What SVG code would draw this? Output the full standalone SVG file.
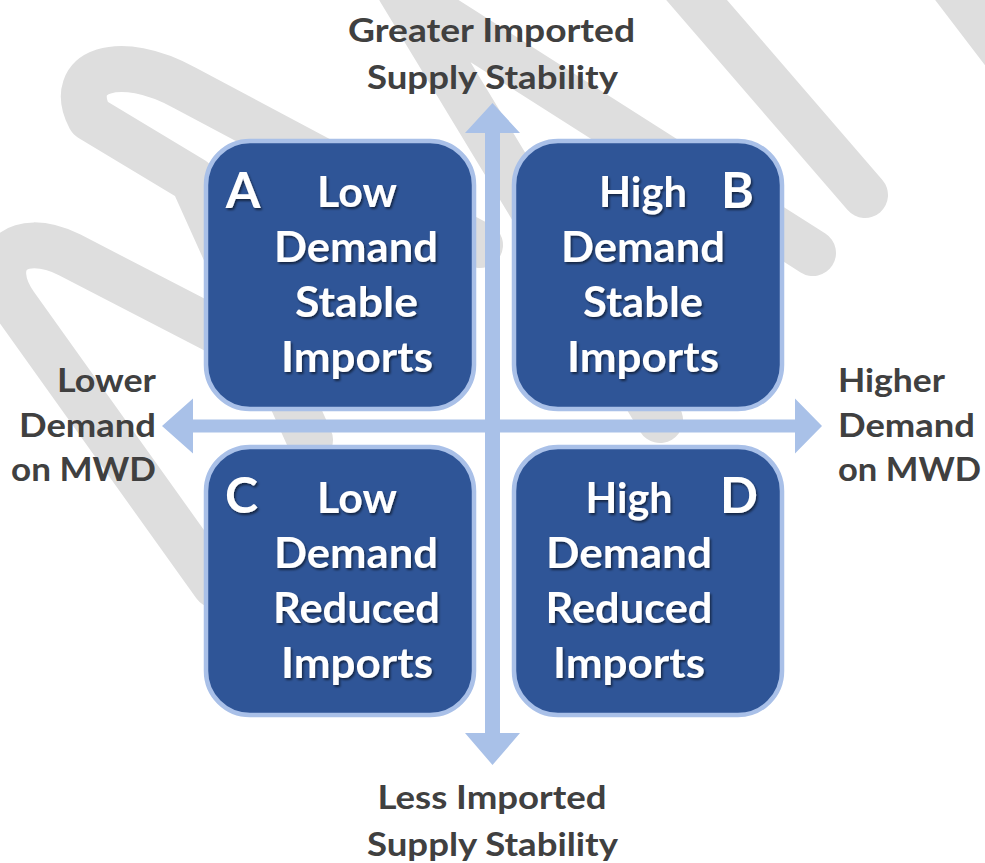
<svg xmlns="http://www.w3.org/2000/svg" width="985" height="863" viewBox="0 0 985 863">
<defs>
<style>
.wm{fill:none;stroke:#dedede;stroke-width:46;stroke-linecap:round;stroke-linejoin:round}
.box{fill:#2f5597;stroke:#a9c0e8;stroke-width:4.5}
.bt{font-family:Lato,"Open Sans","Liberation Sans",sans-serif;font-weight:700;font-size:42px;fill:#ffffff;text-anchor:middle;filter:url(#sh)}
.bl{font-size:50px}
.ax{font-family:Lato,"Open Sans","Liberation Sans",sans-serif;font-weight:700;font-size:33px;fill:#404040}
.arrow{fill:#a9c1e8}
</style>
<filter id="sh" x="-10%" y="-20%" width="130%" height="150%">
<feDropShadow dx="1.5" dy="2" stdDeviation="1" flood-color="#000000" flood-opacity="0.55"/>
</filter>
</defs>
<rect x="0" y="0" width="985" height="863" fill="#ffffff"/>
<g id="watermark">
<path class="wm" d="M 480,245 L 185,88 C 120,52 65,70 90,118 L 193,180 L 310,440"/>
<path class="wm" d="M 215,330 L 70,255 C 15,228 -15,262 15,305 L 215,585"/>
<path class="wm" d="M 660,420 L 400,-10 L 813,253"/>
<path class="wm" d="M 675,-25 L 865,195"/>
<path class="wm" d="M 945,-25 L 1010,60"/>
</g>
<g id="connectors">
<polygon class="arrow" points="492.5,103 520,133 500,133 500,733 520,733 492.5,765 465,733 485,733 485,133 465,133"/>
<polygon class="arrow" points="162,426 193,398.5 193,419.5 795,419.5 795,398.5 822,426 795,453.5 795,432.5 193,432.5 193,453.5"/>
</g>
<g id="label-top">
<text class="ax" x="491.5" y="42" text-anchor="middle" textLength="287" lengthAdjust="spacingAndGlyphs">Greater Imported</text>
<text class="ax" x="492.5" y="89" text-anchor="middle" textLength="251" lengthAdjust="spacingAndGlyphs">Supply Stability</text>
</g>
<g id="label-bottom">
<text class="ax" x="492" y="809" text-anchor="middle" textLength="229" lengthAdjust="spacingAndGlyphs">Less Imported</text>
<text class="ax" x="492.5" y="856" text-anchor="middle" textLength="251" lengthAdjust="spacingAndGlyphs">Supply Stability</text>
</g>
<g id="label-left">
<text class="ax" x="156" y="392" text-anchor="end" textLength="99" lengthAdjust="spacingAndGlyphs">Lower</text>
<text class="ax" x="156" y="437" text-anchor="end" textLength="137" lengthAdjust="spacingAndGlyphs">Demand</text>
<text class="ax" x="156" y="481" text-anchor="end" textLength="145" lengthAdjust="spacingAndGlyphs">on MWD</text>
</g>
<g id="label-right">
<text class="ax" x="838" y="392" textLength="107" lengthAdjust="spacingAndGlyphs">Higher</text>
<text class="ax" x="838" y="437" textLength="137" lengthAdjust="spacingAndGlyphs">Demand</text>
<text class="ax" x="838" y="481" textLength="143" lengthAdjust="spacingAndGlyphs">on MWD</text>
</g>
<g id="node-A">
<rect class="box" x="206" y="141" width="268" height="268" rx="44"/>
<text class="bt bl" x="243" y="208">A</text>
<text class="bt" x="357" y="207" textLength="80" lengthAdjust="spacingAndGlyphs">Low</text>
<text class="bt" x="356" y="262" textLength="164" lengthAdjust="spacingAndGlyphs">Demand</text>
<text class="bt" x="356.5" y="317" textLength="123" lengthAdjust="spacingAndGlyphs">Stable</text>
<text class="bt" x="357" y="372" textLength="152" lengthAdjust="spacingAndGlyphs">Imports</text>
</g>
<g id="node-B">
<rect class="box" x="514" y="141" width="268" height="268" rx="44"/>
<text class="bt bl" x="737.5" y="208">B</text>
<text class="bt" x="643" y="207" textLength="88" lengthAdjust="spacingAndGlyphs">High</text>
<text class="bt" x="643" y="262" textLength="164" lengthAdjust="spacingAndGlyphs">Demand</text>
<text class="bt" x="643" y="317" textLength="120" lengthAdjust="spacingAndGlyphs">Stable</text>
<text class="bt" x="643" y="372" textLength="152" lengthAdjust="spacingAndGlyphs">Imports</text>
</g>
<g id="node-C">
<rect class="box" x="206" y="447" width="268" height="268" rx="44"/>
<text class="bt bl" x="241.5" y="513">C</text>
<text class="bt" x="357" y="513" textLength="80" lengthAdjust="spacingAndGlyphs">Low</text>
<text class="bt" x="356" y="568" textLength="164" lengthAdjust="spacingAndGlyphs">Demand</text>
<text class="bt" x="356.5" y="623" textLength="167" lengthAdjust="spacingAndGlyphs">Reduced</text>
<text class="bt" x="357" y="678" textLength="152" lengthAdjust="spacingAndGlyphs">Imports</text>
</g>
<g id="node-D">
<rect class="box" x="514" y="447" width="268" height="268" rx="44"/>
<text class="bt bl" x="739" y="513">D</text>
<text class="bt" x="629" y="513" textLength="87" lengthAdjust="spacingAndGlyphs">High</text>
<text class="bt" x="629" y="568" textLength="166" lengthAdjust="spacingAndGlyphs">Demand</text>
<text class="bt" x="629" y="623" textLength="167" lengthAdjust="spacingAndGlyphs">Reduced</text>
<text class="bt" x="629" y="678" textLength="152" lengthAdjust="spacingAndGlyphs">Imports</text>
</g>
</svg>
